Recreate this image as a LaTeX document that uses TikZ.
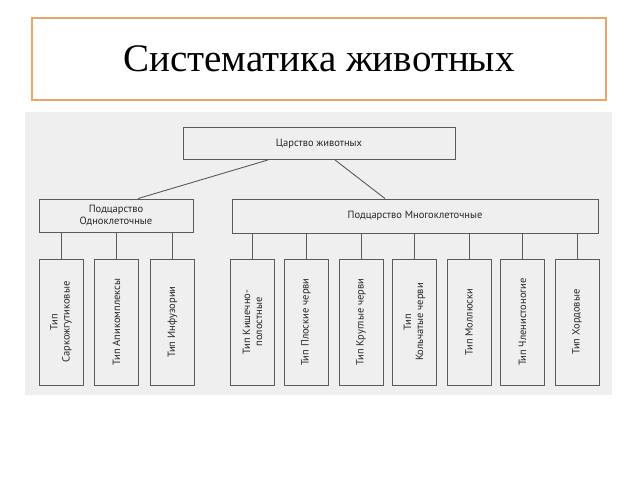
\documentclass[tikz,border=0pt]{standalone}
\usepackage{fontspec}
\setmainfont{Liberation Serif}
\newfontfamily\schemefont{PT Sans}
\definecolor{scangray}{HTML}{EFEFEF}
\definecolor{boxline}{HTML}{5A5A5A}
\definecolor{titleline}{HTML}{E9A66A}
\tikzset{
  titlebox/.style={draw=titleline, line width=1.2pt, minimum width=574pt, minimum height=82pt, font=\fontsize{39}{42}\selectfont},
  rankbox/.style={draw=boxline, line width=0.9pt, text=black!85, align=center, inner sep=1pt, font=\schemefont\fontsize{10.5}{12}\selectfont},
  typebox/.style={rankbox, rotate=90, minimum width=126pt, minimum height=44pt},
  link/.style={draw=boxline, line width=0.9pt}
}
\begin{document}
\begin{tikzpicture}[x=1pt,y=-1pt]
    \useasboundingbox (0,0) rectangle (638,479);
    \fill[scangray] (25,112) rectangle (612,395);

    \node[titlebox] (title) at (319,59) {Систематика животных};

    \node[rankbox, minimum width=272pt, minimum height=32pt] (kingdom) at (319,143.5) {Царство животных};
    \node[rankbox, minimum width=154pt, minimum height=33pt] (uni) at (116,215.5) {Подцарство\\Одноклеточные};
    \node[rankbox, minimum width=366pt, minimum height=34pt] (multi) at (415,216) {Подцарство Многоклеточные};

    \draw[link] ([xshift=-51pt]kingdom.south) -- ([xshift=22pt]uni.north);
    \draw[link] ([xshift=16pt]kingdom.south) -- ([xshift=-30pt]multi.north);

    % one-celled types
    \foreach \i/\x/\txt in {1/61/{Тип\\Саркожгутиковые}, 2/116.5/{Тип Апикомплексы}, 3/172.5/{Тип Инфузории}} {
      \node[typebox] (t\i) at (\x,322) {\txt};
      \draw[link] (t\i.east) -- (t\i.east |- uni.south);
    }

    % many-celled types
    \foreach \i/\x/\txt in {4/252.5/{Тип Кишечно-\\полостные}, 5/306/{Тип Плоские черви}, 6/361/{Тип Круглые черви},
        7/414.5/{Тип\\Кольчатые черви}, 8/469/{Тип Моллюски}, 9/522.5/{Тип Членистоногие}, 10/577/{Тип Хордовые}} {
      \node[typebox] (t\i) at (\x,322) {\txt};
      \draw[link] (t\i.east) -- (t\i.east |- multi.south);
    }
\end{tikzpicture}
\end{document}
